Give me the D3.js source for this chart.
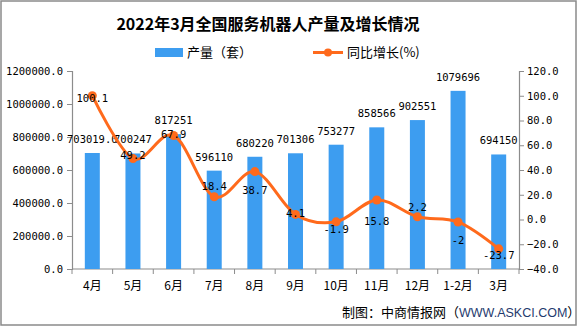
<!DOCTYPE html>
<html><head><meta charset="utf-8">
<script src="https://cdn.jsdelivr.net/npm/d3@7"></script>
<style>body{margin:0;background:#fff}svg{display:block}</style>
</head><body>
<script>
const categories = ["4月","5月","6月","7月","8月","9月","10月","11月","12月","1-2月","3月"];
const output = [703019.0, 700247, 817251, 596110, 680220, 701306, 753277, 858566, 902551, 1079696, 694150];
const outputLabels = ["703019.0","700247","817251","596110","680220","701306","753277","858566","902551","1079696","694150"];
const growth = [100.1, 49.2, 67.9, 18.4, 38.7, 4.1, -1.9, 15.8, 2.2, -2, -23.7];
const leftTicks = [0,200000,400000,600000,800000,1000000,1200000];
const rightTicks = [-40,-20,0,20,40,60,80,100,120];
// layout: vertical label offsets for growth labels (relative to point)
const growthLabelDy = [2,-4,-1,-11,18,-1,7,21,-10,18,6];

(function(){
const W=585,H=327;
const svg=d3.select("body").append("svg").attr("width",W).attr("height",H);
svg.append("rect").attr("x",1).attr("y",1).attr("width",575).attr("height",324)
  .attr("fill","#fff").attr("stroke","#8a8a8a").attr("stroke-width",1.5);

const pL=72,pR=519,pT=71,pB=269;
const x=d3.scaleBand().domain(categories).range([pL,pR]);
const yL=d3.scaleLinear().domain([0,1200000]).range([pB,pT]);
const yR=d3.scaleLinear().domain([-40,120]).range([pB,pT]);
const mono="'DejaVu Sans Mono', monospace";
const cjk="'Noto Sans CJK SC', sans-serif";
const axisColor="#8c8c8c";

svg.append("text").attr("x",268).attr("y",30).attr("text-anchor","middle")
  .attr("font-family",cjk).attr("font-weight","bold").attr("font-size",16).attr("fill","#000")
  .text("2022年3月全国服务机器人产量及增长情况");

svg.append("rect").attr("x",155).attr("y",48).attr("width",28).attr("height",9).attr("fill","#3d9df0");
svg.append("text").attr("x",187).attr("y",57).attr("font-family",cjk).attr("font-size",13).text("产量（套）");
svg.append("line").attr("x1",313).attr("x2",343).attr("y1",52.5).attr("y2",52.5).attr("stroke","#ff6a1c").attr("stroke-width",3);
svg.append("circle").attr("cx",328).attr("cy",52.5).attr("r",4).attr("fill","#ff6a1c");
svg.append("text").attr("x",347).attr("y",57).attr("font-family",cjk).attr("font-size",13).text("同比增长(%)");

const gL=svg.append("g").attr("transform",`translate(${pL},0)`)
  .call(d3.axisLeft(yL).tickValues(leftTicks).tickFormat(d=>d3.format(".1f")(d)).tickSize(5).tickPadding(4));
const gR=svg.append("g").attr("transform",`translate(${pR},0)`)
  .call(d3.axisRight(yR).tickValues(rightTicks).tickFormat(d=>d3.format(".1f")(d)).tickSize(5).tickPadding(3));
const gX=svg.append("g").attr("transform",`translate(0,${pB})`)
  .call(d3.axisBottom(x).tickSize(0).tickPadding(12));
gX.selectAll(".bt").data(d3.range(categories.length+1)).enter().append("line")
  .attr("x1",i=>pL+i*x.step()).attr("x2",i=>pL+i*x.step()).attr("y1",0).attr("y2",5).attr("stroke",axisColor);
[gL,gR,gX].forEach(g=>{
  g.selectAll(".domain").attr("stroke",axisColor).attr("stroke-width",1.2);
  g.selectAll(".tick line").attr("stroke",axisColor);
  g.selectAll("text").attr("fill","#000");
});
gL.selectAll("text").attr("font-family",mono).attr("font-size",10.5);
gR.selectAll("text").attr("font-family",mono).attr("font-size",10.5);
gX.selectAll("text").attr("font-family",cjk).attr("font-size",12);
gX.select(".domain").attr("d",`M${pL},0H${pR}`);

const bw=15;
svg.append("g").selectAll("rect").data(output).enter().append("rect")
  .attr("x",(d,i)=>x(categories[i])+x.bandwidth()/2-bw/2)
  .attr("width",bw).attr("y",d=>yL(d)).attr("height",d=>yL(0)-yL(d)).attr("fill","#3d9df0");
svg.append("g").selectAll("text").data(output).enter().append("text")
  .attr("x",(d,i)=>x(categories[i])+x.bandwidth()/2).attr("y",d=>yL(d)-10)
  .attr("text-anchor","middle").attr("font-family",mono).attr("font-size",10.5).attr("fill","#000")
  .text((d,i)=>outputLabels[i]);

const cx=(i)=>x(categories[i])+x.bandwidth()/2;
const line=d3.line().x((d,i)=>cx(i)).y(d=>yR(d)).curve(d3.curveCardinal.tension(0));
svg.append("path").datum(growth).attr("d",line).attr("fill","none").attr("stroke","#ff6a1c").attr("stroke-width",3);
svg.append("g").selectAll("circle").data(growth).enter().append("circle")
  .attr("cx",(d,i)=>cx(i)).attr("cy",d=>yR(d)).attr("r",4.5).attr("fill","#ff6a1c");
svg.append("g").selectAll("text").data(growth).enter().append("text")
  .attr("x",(d,i)=>cx(i)).attr("y",(d,i)=>yR(d)+growthLabelDy[i]+4)
  .attr("text-anchor","middle").attr("font-family",mono).attr("font-size",10.5).attr("fill","#000")
  .text(d=>String(d));

const src=svg.append("text").attr("x",342).attr("y",317).attr("font-family",cjk).attr("font-size",13).attr("fill","#000");
src.append("tspan").text("制图：中商情报网（");
src.append("tspan").attr("font-family","'Liberation Sans', Arial, sans-serif").attr("fill","#1f3a6e").attr("font-size",12.5).text("WWW.ASKCI.COM");
src.append("tspan").text("）");
})();
</script>
</body></html>
